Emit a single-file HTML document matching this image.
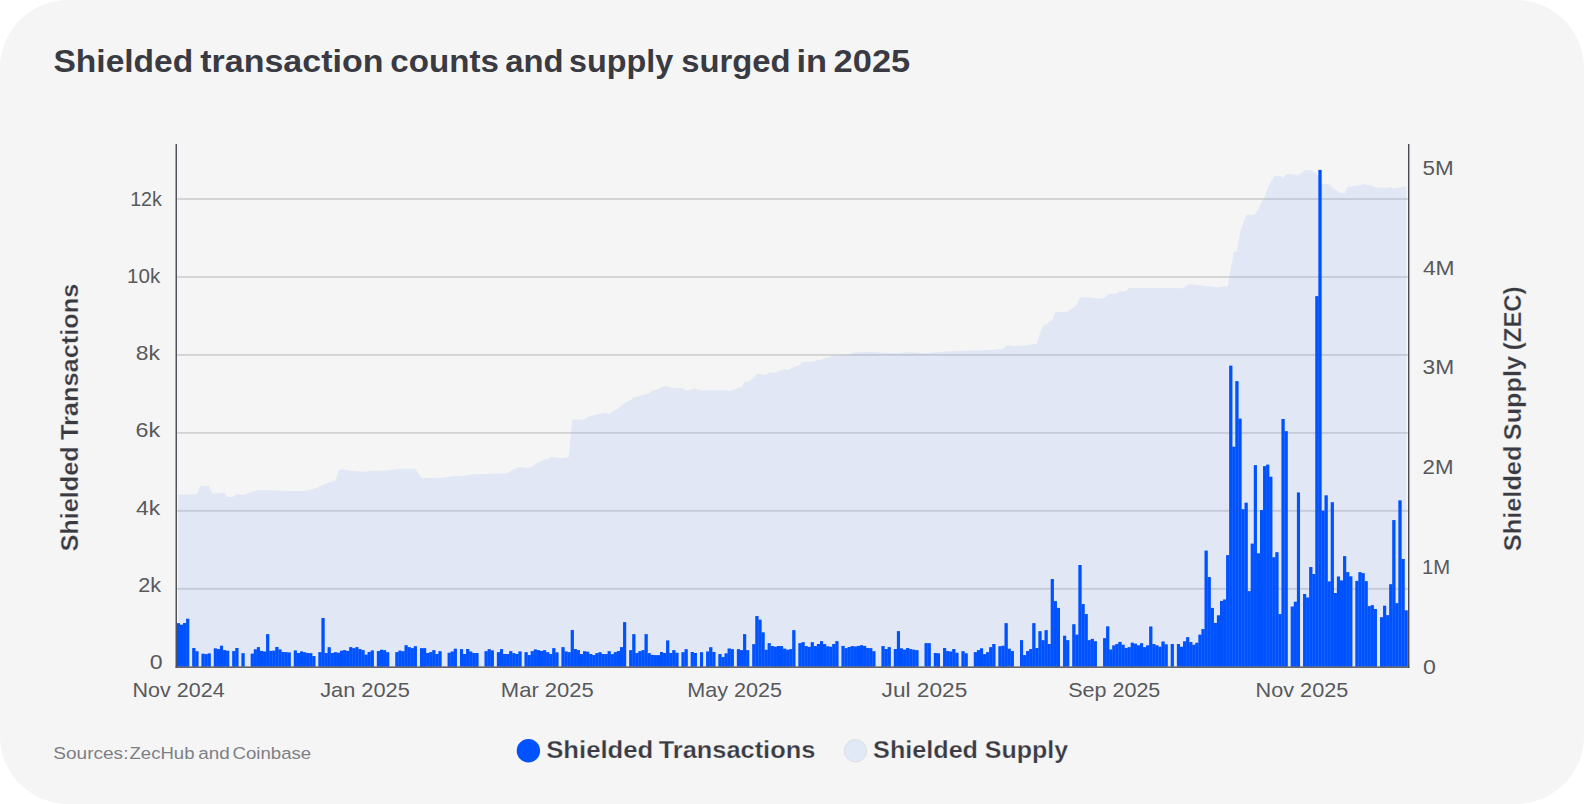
<!DOCTYPE html>
<html><head><meta charset="utf-8"><title>Shielded transaction counts and supply surged in 2025</title>
<style>
html,body{margin:0;padding:0;background:#fff;}
body{width:1584px;height:804px;overflow:hidden;}
.card{position:absolute;left:0;top:0;width:1584px;height:804px;background:#f5f5f5;border-radius:68px;overflow:hidden;}
svg{position:absolute;left:0;top:0;}
text{font-family:"Liberation Sans",sans-serif;}
.title{font-size:32px;font-weight:700;fill:#393a42;}
.tick{font-size:20.3px;fill:#58595d;}
.axt{font-size:24.3px;font-weight:700;fill:#393a42;stroke:#f5f5f5;stroke-width:0.25px;}
.leg{font-size:24.3px;font-weight:700;fill:#393a42;stroke:#f5f5f5;stroke-width:0.25px;}
.src{font-size:17.4px;fill:#7e7f84;}
</style></head><body>
<div class="card">
<svg width="1584" height="804" viewBox="0 0 1584 804">
<rect x="177.2" y="587.88" width="1230.9" height="1.9" fill="#d3d3d3"/>
<rect x="177.2" y="509.91" width="1230.9" height="1.9" fill="#d3d3d3"/>
<rect x="177.2" y="431.94" width="1230.9" height="1.9" fill="#d3d3d3"/>
<rect x="177.2" y="353.97" width="1230.9" height="1.9" fill="#d3d3d3"/>
<rect x="177.2" y="276.00" width="1230.9" height="1.9" fill="#d3d3d3"/>
<rect x="177.2" y="198.03" width="1230.9" height="1.9" fill="#d3d3d3"/>
<path d="M178.3,666.5 L178.3,494.7 L196.7,494.2 L200.3,486.0 L208.8,485.5 L212.2,493.7 L224.2,492.7 L227.7,497.3 L233.3,496.7 L236.7,494.3 L242.8,495.0 L255.0,490.7 L261.7,490.0 L285.0,491.0 L303.3,491.0 L313.3,489.2 L323.3,484.7 L332.5,481.3 L335.3,480.7 L338.7,470.3 L343.3,469.3 L350.0,470.7 L363.3,471.8 L366.7,471.2 L386.7,470.5 L398.3,469.0 L415.0,468.8 L421.7,478.2 L434.0,477.8 L443.3,477.7 L455.0,476.0 L467.5,475.7 L471.7,474.5 L507.5,473.2 L511.7,470.3 L520.0,467.0 L525.8,468.0 L532.0,467.3 L535.8,463.8 L545.0,459.3 L548.0,459.2 L550.8,457.0 L562.5,458.2 L568.8,457.2 L572.2,419.2 L575.8,419.8 L584.2,419.5 L587.5,417.0 L597.5,414.2 L605.8,412.8 L609.2,414.0 L615.0,410.0 L618.3,408.5 L624.7,402.7 L630.8,400.0 L633.7,397.0 L636.7,396.7 L645.0,394.2 L649.2,393.3 L652.2,390.7 L655.8,390.0 L664.2,386.3 L667.5,386.3 L670.8,387.7 L682.5,388.2 L686.7,390.8 L690.0,390.0 L695.0,388.5 L700.8,390.2 L725.8,390.3 L729.2,391.2 L737.5,388.0 L741.3,387.3 L744.7,382.0 L748.0,381.8 L753.7,378.0 L757.0,374.0 L765.8,374.7 L770.0,372.3 L775.0,373.0 L778.3,371.2 L784.7,369.3 L787.5,370.2 L794.2,367.0 L800.0,365.0 L803.3,362.0 L814.2,361.5 L817.5,360.2 L821.7,359.8 L824.7,358.2 L828.3,357.5 L831.7,355.7 L846.7,354.5 L855.0,352.5 L870.0,352.0 L895.0,353.3 L910.0,352.3 L925.0,353.3 L950.0,351.3 L991.7,350.0 L1003.0,348.8 L1006.7,345.8 L1009.2,345.5 L1012.0,346.2 L1026.7,345.5 L1031.7,344.3 L1036.7,344.0 L1040.0,333.3 L1043.3,325.3 L1046.3,325.0 L1049.5,321.3 L1052.2,320.0 L1055.5,312.3 L1067.5,311.8 L1076.7,305.3 L1080.0,297.2 L1093.3,298.0 L1095.8,298.8 L1104.5,298.0 L1108.0,294.3 L1117.5,293.2 L1120.0,291.0 L1123.3,291.7 L1126.3,290.7 L1129.5,288.0 L1156.0,288.0 L1183.5,288.3 L1187.7,284.5 L1191.0,284.2 L1218.5,287.5 L1224.3,286.2 L1227.7,286.5 L1230.2,271.7 L1234.0,251.7 L1236.8,251.3 L1240.2,231.7 L1246.3,215.3 L1249.3,214.7 L1252.7,215.5 L1255.5,213.7 L1258.5,209.3 L1261.3,202.5 L1264.3,198.0 L1267.7,187.5 L1274.3,176.3 L1280.2,176.0 L1283.0,178.0 L1286.3,174.0 L1292.7,174.3 L1298.5,175.5 L1304.8,170.3 L1311.0,170.3 L1316.8,174.2 L1318.5,176.7 L1322.7,184.2 L1329.3,184.3 L1332.7,188.3 L1341.8,193.3 L1344.7,193.2 L1347.7,186.7 L1358.5,185.8 L1363.2,183.7 L1367.7,185.3 L1372.2,185.5 L1375.2,187.5 L1386.8,187.8 L1390.7,187.0 L1393.5,188.2 L1397.7,187.8 L1406.3,186.2 L1406.3,666.5 Z" fill="rgb(145,175,245)" fill-opacity="0.2"/>
<path d="M176.90,666.5V623.2H179.98V624.8H183.05V623.0H186.13V618.8H189.21V666.5ZM192.28,666.5V648.0H195.36V651.3H198.44V666.5ZM201.52,666.5V653.8H204.59V654.2H207.67V653.5H210.75V666.5ZM213.82,666.5V648.4H216.90V649.1H219.98V645.8H223.06V650.2H226.13V650.8H229.21V666.5ZM232.29,666.5V651.1H235.36V648.0H238.44V666.5ZM241.52,666.5V653.2H244.59V666.5ZM250.75,666.5V653.7H253.82V649.4H256.90V647.2H259.98V650.9H263.06V651.6H266.13V634.2H269.21V650.9H272.29V650.7H275.36V647.0H278.44V649.5H281.52V652.0H284.60V652.2H287.67V652.5H290.75V666.5ZM293.83,666.5V650.5H296.90V653.0H299.98V651.5H303.06V652.3H306.13V653.0H309.21V653.2H312.29V656.1H315.37V666.5ZM318.44,666.5V652.2H321.52V618.0H324.60V653.0H327.67V647.3H330.75V653.0H333.83V652.3H336.90V652.8H339.98V650.8H343.06V650.2H346.13V650.9H349.21V647.2H352.29V648.2H355.37V647.2H358.44V649.1H361.52V650.2H364.60V654.7H367.67V652.0H370.75V650.5H373.83V666.5ZM376.90,666.5V651.1H379.98V649.8H383.06V650.2H386.14V652.2H389.21V666.5ZM395.37,666.5V652.2H398.44V650.7H401.52V651.3H404.60V645.3H407.68V647.2H410.75V648.2H413.83V646.3H416.91V666.5ZM419.98,666.5V648.2H423.06V648.2H426.14V653.0H429.21V652.2H432.29V650.2H435.37V654.0H438.45V651.3H441.52V666.5ZM447.68,666.5V652.8H450.75V651.6H453.83V648.8H456.91V666.5ZM459.98,666.5V649.2H463.06V654.0H466.14V649.0H469.22V651.6H472.29V653.0H475.37V653.0H478.45V666.5ZM484.60,666.5V651.2H487.68V649.2H490.75V650.5H493.83V666.5ZM496.91,666.5V652.2H499.99V649.1H503.06V654.0H506.14V654.0H509.22V651.2H512.29V653.2H515.37V654.0H518.45V651.5H521.52V666.5ZM524.60,666.5V652.2H527.68V655.1H530.75V651.2H533.83V649.5H536.91V650.2H539.99V650.9H543.06V650.2H546.14V652.2H549.22V654.0H552.29V648.2H555.37V652.4H558.45V666.5ZM561.52,666.5V647.2H564.60V651.6H567.68V652.2H570.76V630.1H573.83V649.1H576.91V650.2H579.99V654.0H583.06V651.3H586.14V651.8H589.22V654.0H592.29V655.1H595.37V653.2H598.45V652.3H601.53V654.0H604.60V654.0H607.68V651.3H610.76V654.2H613.83V652.2H616.91V651.1H619.99V647.2H623.07V622.2H626.14V666.5ZM629.22,666.5V650.2H632.30V634.2H635.37V653.0H638.45V651.2H641.53V650.2H644.60V634.2H647.68V653.2H650.76V654.9H653.84V655.2H656.91V655.2H659.99V652.0H663.07V653.0H666.14V640.5H669.22V653.0H672.30V650.2H675.37V652.8H678.45V666.5ZM681.53,666.5V652.2H684.61V649.2H687.68V666.5ZM690.76,666.5V652.0H693.84V653.0H696.91V666.5ZM699.99,666.5V652.2H703.07V666.5ZM706.14,666.5V651.6H709.22V647.3H712.30V652.0H715.38V666.5ZM718.45,666.5V654.1H721.53V657.0H724.61V653.4H727.68V648.6H730.76V649.2H733.84V666.5ZM736.91,666.5V649.2H739.99V650.2H743.07V634.2H746.14V650.2H749.22V666.5ZM752.30,666.5V644.2H755.38V616.1H758.45V619.7H761.53V632.4H764.61V649.8H767.68V643.2H770.76V646.1H773.84V646.8H776.91V646.1H779.99V646.1H783.07V648.7H786.15V649.8H789.22V649.2H792.30V630.2H795.38V666.5ZM798.45,666.5V643.2H801.53V642.2H804.61V646.1H807.68V646.9H810.76V642.2H813.84V646.1H816.92V644.0H819.99V641.2H823.07V644.0H826.15V646.3H829.22V646.8H832.30V644.0H835.38V641.2H838.45V666.5ZM841.53,666.5V645.9H844.61V648.2H847.69V647.0H850.76V646.1H853.84V646.6H856.92V645.9H859.99V645.3H863.07V645.9H866.15V648.0H869.23V648.2H872.30V651.3H875.38V666.5ZM881.53,666.5V646.1H884.61V649.0H887.69V647.2H890.76V666.5ZM893.84,666.5V649.0H896.92V631.2H900.00V648.4H903.07V649.7H906.15V648.0H909.23V649.1H912.30V649.8H915.38V650.2H918.46V666.5ZM924.61,666.5V643.2H927.69V643.2H930.76V666.5ZM933.84,666.5V653.0H936.92V653.4H940.00V666.5ZM943.07,666.5V648.0H946.15V651.1H949.23V651.6H952.30V649.0H955.38V652.8H958.46V666.5ZM961.53,666.5V651.3H964.61V653.4H967.69V666.5ZM973.84,666.5V652.2H976.92V650.2H980.00V648.4H983.07V654.2H986.15V652.2H989.23V647.2H992.30V644.0H995.38V666.5ZM998.46,666.5V646.3H1001.54V645.8H1004.61V623.2H1007.69V648.8H1010.77V651.1H1013.84V666.5ZM1020.00,666.5V640.2H1023.07V655.1H1026.15V651.1H1029.23V649.1H1032.31V623.2H1035.38V648.0H1038.46V631.3H1041.54V640.2H1044.61V630.2H1047.69V644.0H1050.77V579.1H1053.85V601.1H1056.92V607.9H1060.00V666.5ZM1063.08,666.5V635.8H1066.15V640.2H1069.23V666.5ZM1072.31,666.5V624.3H1075.38V634.7H1078.46V565.0H1081.54V604.1H1084.62V614.1H1087.69V640.2H1090.77V638.9H1093.85V641.2H1096.92V666.5ZM1103.08,666.5V638.2H1106.15V626.4H1109.23V649.6H1112.31V645.4H1115.38V644.1H1118.46V641.9H1121.54V644.8H1124.62V647.9H1127.69V647.2H1130.77V642.8H1133.85V643.7H1136.92V645.4H1140.00V643.3H1143.08V647.2H1146.15V645.4H1149.23V626.6H1152.31V644.1H1155.39V645.4H1158.46V646.8H1161.54V641.6H1164.62V644.4H1167.69V666.5ZM1170.77,666.5V644.0H1173.85V666.5ZM1176.92,666.5V644.0H1180.00V646.8H1183.08V641.4H1186.16V637.2H1189.23V642.1H1192.31V644.8H1195.39V642.8H1198.46V634.7H1201.54V629.1H1204.62V550.7H1207.70V577.1H1210.77V607.9H1213.85V622.9H1216.93V615.4H1220.00V600.9H1223.08V599.6H1226.16V555.2H1229.23V365.7H1232.31V446.8H1235.39V381.2H1238.47V418.7H1241.54V509.3H1244.62V502.8H1247.70V591.2H1250.77V543.7H1253.85V465.2H1256.93V553.4H1260.00V510.1H1263.08V466.2H1266.16V464.7H1269.24V476.8H1272.31V557.3H1275.39V552.3H1278.47V614.1H1281.54V419.0H1284.62V431.2H1287.70V666.5ZM1290.77,666.5V606.6H1293.85V601.8H1296.93V492.6H1300.01V666.5ZM1303.08,666.5V594.0H1306.16V597.6H1309.24V567.1H1312.31V574.0H1315.39V296.2H1318.47V169.9H1321.54V510.7H1324.62V495.4H1327.70V581.5H1330.78V502.3H1333.85V593.0H1336.93V576.6H1340.01V580.5H1343.08V556.2H1346.16V572.2H1349.24V576.4H1352.31V666.5ZM1355.39,666.5V580.9H1358.47V572.2H1361.55V573.2H1364.62V581.2H1367.70V606.2H1370.78V605.2H1373.85V609.0H1376.93V666.5ZM1380.01,666.5V617.3H1383.08V605.8H1386.16V615.2H1389.24V584.3H1392.32V520.1H1395.39V603.2H1398.47V500.4H1401.55V559.0H1404.62V610.4H1407.70V666.5Z" fill="#0052ff" fill-opacity="0.5"/>
<g fill="#0052ff">
<rect x="176.90" y="623.2" width="3.077" height="43.3"/><rect x="179.98" y="624.8" width="3.077" height="41.7"/><rect x="183.05" y="623.0" width="3.077" height="43.5"/><rect x="186.13" y="618.8" width="3.077" height="47.7"/><rect x="192.28" y="648.0" width="3.077" height="18.5"/><rect x="195.36" y="651.3" width="3.077" height="15.2"/><rect x="201.52" y="653.8" width="3.077" height="12.7"/><rect x="204.59" y="654.2" width="3.077" height="12.3"/><rect x="207.67" y="653.5" width="3.077" height="13.0"/><rect x="213.82" y="648.4" width="3.077" height="18.1"/><rect x="216.90" y="649.1" width="3.077" height="17.4"/><rect x="219.98" y="645.8" width="3.077" height="20.8"/><rect x="223.06" y="650.2" width="3.077" height="16.2"/><rect x="226.13" y="650.8" width="3.077" height="15.8"/><rect x="232.29" y="651.1" width="3.077" height="15.4"/><rect x="235.36" y="648.0" width="3.077" height="18.5"/><rect x="241.52" y="653.2" width="3.077" height="13.3"/><rect x="250.75" y="653.7" width="3.077" height="12.8"/><rect x="253.82" y="649.4" width="3.077" height="17.1"/><rect x="256.90" y="647.2" width="3.077" height="19.3"/><rect x="259.98" y="650.9" width="3.077" height="15.6"/><rect x="263.06" y="651.6" width="3.077" height="14.9"/><rect x="266.13" y="634.2" width="3.077" height="32.2"/><rect x="269.21" y="650.9" width="3.077" height="15.6"/><rect x="272.29" y="650.7" width="3.077" height="15.8"/><rect x="275.36" y="647.0" width="3.077" height="19.5"/><rect x="278.44" y="649.5" width="3.077" height="17.0"/><rect x="281.52" y="652.0" width="3.077" height="14.5"/><rect x="284.60" y="652.2" width="3.077" height="14.3"/><rect x="287.67" y="652.5" width="3.077" height="14.0"/><rect x="293.83" y="650.5" width="3.077" height="16.0"/><rect x="296.90" y="653.0" width="3.077" height="13.5"/><rect x="299.98" y="651.5" width="3.077" height="15.0"/><rect x="303.06" y="652.3" width="3.077" height="14.2"/><rect x="306.13" y="653.0" width="3.077" height="13.5"/><rect x="309.21" y="653.2" width="3.077" height="13.2"/><rect x="312.29" y="656.1" width="3.077" height="10.4"/><rect x="318.44" y="652.2" width="3.077" height="14.3"/><rect x="321.52" y="618.0" width="3.077" height="48.5"/><rect x="324.60" y="653.0" width="3.077" height="13.5"/><rect x="327.67" y="647.3" width="3.077" height="19.2"/><rect x="330.75" y="653.0" width="3.077" height="13.5"/><rect x="333.83" y="652.3" width="3.077" height="14.2"/><rect x="336.90" y="652.8" width="3.077" height="13.7"/><rect x="339.98" y="650.8" width="3.077" height="15.8"/><rect x="343.06" y="650.2" width="3.077" height="16.2"/><rect x="346.13" y="650.9" width="3.077" height="15.6"/><rect x="349.21" y="647.2" width="3.077" height="19.3"/><rect x="352.29" y="648.2" width="3.077" height="18.3"/><rect x="355.37" y="647.2" width="3.077" height="19.3"/><rect x="358.44" y="649.1" width="3.077" height="17.4"/><rect x="361.52" y="650.2" width="3.077" height="16.2"/><rect x="364.60" y="654.7" width="3.077" height="11.8"/><rect x="367.67" y="652.0" width="3.077" height="14.5"/><rect x="370.75" y="650.5" width="3.077" height="16.0"/><rect x="376.90" y="651.1" width="3.077" height="15.4"/><rect x="379.98" y="649.8" width="3.077" height="16.7"/><rect x="383.06" y="650.2" width="3.077" height="16.2"/><rect x="386.14" y="652.2" width="3.077" height="14.3"/><rect x="395.37" y="652.2" width="3.077" height="14.3"/><rect x="398.44" y="650.7" width="3.077" height="15.8"/><rect x="401.52" y="651.3" width="3.077" height="15.2"/><rect x="404.60" y="645.3" width="3.077" height="21.2"/><rect x="407.68" y="647.2" width="3.077" height="19.3"/><rect x="410.75" y="648.2" width="3.077" height="18.3"/><rect x="413.83" y="646.3" width="3.077" height="20.2"/><rect x="419.98" y="648.2" width="3.077" height="18.3"/><rect x="423.06" y="648.2" width="3.077" height="18.3"/><rect x="426.14" y="653.0" width="3.077" height="13.5"/><rect x="429.21" y="652.2" width="3.077" height="14.3"/><rect x="432.29" y="650.2" width="3.077" height="16.2"/><rect x="435.37" y="654.0" width="3.077" height="12.5"/><rect x="438.45" y="651.3" width="3.077" height="15.2"/><rect x="447.68" y="652.8" width="3.077" height="13.8"/><rect x="450.75" y="651.6" width="3.077" height="14.9"/><rect x="453.83" y="648.8" width="3.077" height="17.7"/><rect x="459.98" y="649.2" width="3.077" height="17.2"/><rect x="463.06" y="654.0" width="3.077" height="12.5"/><rect x="466.14" y="649.0" width="3.077" height="17.5"/><rect x="469.22" y="651.6" width="3.077" height="14.9"/><rect x="472.29" y="653.0" width="3.077" height="13.5"/><rect x="475.37" y="653.0" width="3.077" height="13.5"/><rect x="484.60" y="651.2" width="3.077" height="15.3"/><rect x="487.68" y="649.2" width="3.077" height="17.2"/><rect x="490.75" y="650.5" width="3.077" height="16.0"/><rect x="496.91" y="652.2" width="3.077" height="14.3"/><rect x="499.99" y="649.1" width="3.077" height="17.4"/><rect x="503.06" y="654.0" width="3.077" height="12.5"/><rect x="506.14" y="654.0" width="3.077" height="12.5"/><rect x="509.22" y="651.2" width="3.077" height="15.3"/><rect x="512.29" y="653.2" width="3.077" height="13.2"/><rect x="515.37" y="654.0" width="3.077" height="12.5"/><rect x="518.45" y="651.5" width="3.077" height="15.0"/><rect x="524.60" y="652.2" width="3.077" height="14.3"/><rect x="527.68" y="655.1" width="3.077" height="11.4"/><rect x="530.75" y="651.2" width="3.077" height="15.3"/><rect x="533.83" y="649.5" width="3.077" height="17.0"/><rect x="536.91" y="650.2" width="3.077" height="16.2"/><rect x="539.99" y="650.9" width="3.077" height="15.6"/><rect x="543.06" y="650.2" width="3.077" height="16.2"/><rect x="546.14" y="652.2" width="3.077" height="14.3"/><rect x="549.22" y="654.0" width="3.077" height="12.5"/><rect x="552.29" y="648.2" width="3.077" height="18.3"/><rect x="555.37" y="652.4" width="3.077" height="14.1"/><rect x="561.52" y="647.2" width="3.077" height="19.3"/><rect x="564.60" y="651.6" width="3.077" height="14.9"/><rect x="567.68" y="652.2" width="3.077" height="14.3"/><rect x="570.76" y="630.1" width="3.077" height="36.4"/><rect x="573.83" y="649.1" width="3.077" height="17.4"/><rect x="576.91" y="650.2" width="3.077" height="16.2"/><rect x="579.99" y="654.0" width="3.077" height="12.5"/><rect x="583.06" y="651.3" width="3.077" height="15.2"/><rect x="586.14" y="651.8" width="3.077" height="14.8"/><rect x="589.22" y="654.0" width="3.077" height="12.5"/><rect x="592.29" y="655.1" width="3.077" height="11.4"/><rect x="595.37" y="653.2" width="3.077" height="13.3"/><rect x="598.45" y="652.3" width="3.077" height="14.2"/><rect x="601.53" y="654.0" width="3.077" height="12.5"/><rect x="604.60" y="654.0" width="3.077" height="12.5"/><rect x="607.68" y="651.3" width="3.077" height="15.2"/><rect x="610.76" y="654.2" width="3.077" height="12.2"/><rect x="613.83" y="652.2" width="3.077" height="14.3"/><rect x="616.91" y="651.1" width="3.077" height="15.4"/><rect x="619.99" y="647.2" width="3.077" height="19.3"/><rect x="623.07" y="622.2" width="3.077" height="44.3"/><rect x="629.22" y="650.2" width="3.077" height="16.2"/><rect x="632.30" y="634.2" width="3.077" height="32.2"/><rect x="635.37" y="653.0" width="3.077" height="13.5"/><rect x="638.45" y="651.2" width="3.077" height="15.3"/><rect x="641.53" y="650.2" width="3.077" height="16.2"/><rect x="644.60" y="634.2" width="3.077" height="32.2"/><rect x="647.68" y="653.2" width="3.077" height="13.3"/><rect x="650.76" y="654.9" width="3.077" height="11.6"/><rect x="653.84" y="655.2" width="3.077" height="11.3"/><rect x="656.91" y="655.2" width="3.077" height="11.3"/><rect x="659.99" y="652.0" width="3.077" height="14.5"/><rect x="663.07" y="653.0" width="3.077" height="13.5"/><rect x="666.14" y="640.5" width="3.077" height="26.0"/><rect x="669.22" y="653.0" width="3.077" height="13.5"/><rect x="672.30" y="650.2" width="3.077" height="16.2"/><rect x="675.37" y="652.8" width="3.077" height="13.8"/><rect x="681.53" y="652.2" width="3.077" height="14.3"/><rect x="684.61" y="649.2" width="3.077" height="17.2"/><rect x="690.76" y="652.0" width="3.077" height="14.5"/><rect x="693.84" y="653.0" width="3.077" height="13.5"/><rect x="699.99" y="652.2" width="3.077" height="14.3"/><rect x="706.14" y="651.6" width="3.077" height="14.9"/><rect x="709.22" y="647.3" width="3.077" height="19.2"/><rect x="712.30" y="652.0" width="3.077" height="14.5"/><rect x="718.45" y="654.1" width="3.077" height="12.4"/><rect x="721.53" y="657.0" width="3.077" height="9.5"/><rect x="724.61" y="653.4" width="3.077" height="13.1"/><rect x="727.68" y="648.6" width="3.077" height="17.9"/><rect x="730.76" y="649.2" width="3.077" height="17.2"/><rect x="736.91" y="649.2" width="3.077" height="17.2"/><rect x="739.99" y="650.2" width="3.077" height="16.2"/><rect x="743.07" y="634.2" width="3.077" height="32.2"/><rect x="746.14" y="650.2" width="3.077" height="16.2"/><rect x="752.30" y="644.2" width="3.077" height="22.2"/><rect x="755.38" y="616.1" width="3.077" height="50.4"/><rect x="758.45" y="619.7" width="3.077" height="46.8"/><rect x="761.53" y="632.4" width="3.077" height="34.1"/><rect x="764.61" y="649.8" width="3.077" height="16.7"/><rect x="767.68" y="643.2" width="3.077" height="23.2"/><rect x="770.76" y="646.1" width="3.077" height="20.4"/><rect x="773.84" y="646.8" width="3.077" height="19.8"/><rect x="776.91" y="646.1" width="3.077" height="20.4"/><rect x="779.99" y="646.1" width="3.077" height="20.4"/><rect x="783.07" y="648.7" width="3.077" height="17.8"/><rect x="786.15" y="649.8" width="3.077" height="16.7"/><rect x="789.22" y="649.2" width="3.077" height="17.2"/><rect x="792.30" y="630.2" width="3.077" height="36.2"/><rect x="798.45" y="643.2" width="3.077" height="23.2"/><rect x="801.53" y="642.2" width="3.077" height="24.3"/><rect x="804.61" y="646.1" width="3.077" height="20.4"/><rect x="807.68" y="646.9" width="3.077" height="19.6"/><rect x="810.76" y="642.2" width="3.077" height="24.3"/><rect x="813.84" y="646.1" width="3.077" height="20.4"/><rect x="816.92" y="644.0" width="3.077" height="22.5"/><rect x="819.99" y="641.2" width="3.077" height="25.3"/><rect x="823.07" y="644.0" width="3.077" height="22.5"/><rect x="826.15" y="646.3" width="3.077" height="20.2"/><rect x="829.22" y="646.8" width="3.077" height="19.8"/><rect x="832.30" y="644.0" width="3.077" height="22.5"/><rect x="835.38" y="641.2" width="3.077" height="25.3"/><rect x="841.53" y="645.9" width="3.077" height="20.6"/><rect x="844.61" y="648.2" width="3.077" height="18.3"/><rect x="847.69" y="647.0" width="3.077" height="19.5"/><rect x="850.76" y="646.1" width="3.077" height="20.4"/><rect x="853.84" y="646.6" width="3.077" height="19.9"/><rect x="856.92" y="645.9" width="3.077" height="20.6"/><rect x="859.99" y="645.3" width="3.077" height="21.2"/><rect x="863.07" y="645.9" width="3.077" height="20.6"/><rect x="866.15" y="648.0" width="3.077" height="18.5"/><rect x="869.23" y="648.2" width="3.077" height="18.2"/><rect x="872.30" y="651.3" width="3.077" height="15.2"/><rect x="881.53" y="646.1" width="3.077" height="20.4"/><rect x="884.61" y="649.0" width="3.077" height="17.5"/><rect x="887.69" y="647.2" width="3.077" height="19.3"/><rect x="893.84" y="649.0" width="3.077" height="17.5"/><rect x="896.92" y="631.2" width="3.077" height="35.3"/><rect x="900.00" y="648.4" width="3.077" height="18.1"/><rect x="903.07" y="649.7" width="3.077" height="16.8"/><rect x="906.15" y="648.0" width="3.077" height="18.5"/><rect x="909.23" y="649.1" width="3.077" height="17.4"/><rect x="912.30" y="649.8" width="3.077" height="16.7"/><rect x="915.38" y="650.2" width="3.077" height="16.2"/><rect x="924.61" y="643.2" width="3.077" height="23.2"/><rect x="927.69" y="643.2" width="3.077" height="23.2"/><rect x="933.84" y="653.0" width="3.077" height="13.5"/><rect x="936.92" y="653.4" width="3.077" height="13.1"/><rect x="943.07" y="648.0" width="3.077" height="18.5"/><rect x="946.15" y="651.1" width="3.077" height="15.4"/><rect x="949.23" y="651.6" width="3.077" height="14.9"/><rect x="952.30" y="649.0" width="3.077" height="17.5"/><rect x="955.38" y="652.8" width="3.077" height="13.8"/><rect x="961.53" y="651.3" width="3.077" height="15.2"/><rect x="964.61" y="653.4" width="3.077" height="13.1"/><rect x="973.84" y="652.2" width="3.077" height="14.3"/><rect x="976.92" y="650.2" width="3.077" height="16.2"/><rect x="980.00" y="648.4" width="3.077" height="18.1"/><rect x="983.07" y="654.2" width="3.077" height="12.2"/><rect x="986.15" y="652.2" width="3.077" height="14.3"/><rect x="989.23" y="647.2" width="3.077" height="19.3"/><rect x="992.30" y="644.0" width="3.077" height="22.5"/><rect x="998.46" y="646.3" width="3.077" height="20.2"/><rect x="1001.54" y="645.8" width="3.077" height="20.8"/><rect x="1004.61" y="623.2" width="3.077" height="43.3"/><rect x="1007.69" y="648.8" width="3.077" height="17.7"/><rect x="1010.77" y="651.1" width="3.077" height="15.4"/><rect x="1020.00" y="640.2" width="3.077" height="26.2"/><rect x="1023.07" y="655.1" width="3.077" height="11.4"/><rect x="1026.15" y="651.1" width="3.077" height="15.4"/><rect x="1029.23" y="649.1" width="3.077" height="17.4"/><rect x="1032.31" y="623.2" width="3.077" height="43.3"/><rect x="1035.38" y="648.0" width="3.077" height="18.5"/><rect x="1038.46" y="631.3" width="3.077" height="35.2"/><rect x="1041.54" y="640.2" width="3.077" height="26.2"/><rect x="1044.61" y="630.2" width="3.077" height="36.2"/><rect x="1047.69" y="644.0" width="3.077" height="22.5"/><rect x="1050.77" y="579.1" width="3.077" height="87.4"/><rect x="1053.85" y="601.1" width="3.077" height="65.4"/><rect x="1056.92" y="607.9" width="3.077" height="58.6"/><rect x="1063.08" y="635.8" width="3.077" height="30.7"/><rect x="1066.15" y="640.2" width="3.077" height="26.2"/><rect x="1072.31" y="624.3" width="3.077" height="42.2"/><rect x="1075.38" y="634.7" width="3.077" height="31.8"/><rect x="1078.46" y="565.0" width="3.077" height="101.5"/><rect x="1081.54" y="604.1" width="3.077" height="62.4"/><rect x="1084.62" y="614.1" width="3.077" height="52.4"/><rect x="1087.69" y="640.2" width="3.077" height="26.2"/><rect x="1090.77" y="638.9" width="3.077" height="27.6"/><rect x="1093.85" y="641.2" width="3.077" height="25.3"/><rect x="1103.08" y="638.2" width="3.077" height="28.3"/><rect x="1106.15" y="626.4" width="3.077" height="40.1"/><rect x="1109.23" y="649.6" width="3.077" height="16.9"/><rect x="1112.31" y="645.4" width="3.077" height="21.1"/><rect x="1115.38" y="644.1" width="3.077" height="22.4"/><rect x="1118.46" y="641.9" width="3.077" height="24.6"/><rect x="1121.54" y="644.8" width="3.077" height="21.7"/><rect x="1124.62" y="647.9" width="3.077" height="18.6"/><rect x="1127.69" y="647.2" width="3.077" height="19.3"/><rect x="1130.77" y="642.8" width="3.077" height="23.8"/><rect x="1133.85" y="643.7" width="3.077" height="22.8"/><rect x="1136.92" y="645.4" width="3.077" height="21.1"/><rect x="1140.00" y="643.3" width="3.077" height="23.2"/><rect x="1143.08" y="647.2" width="3.077" height="19.3"/><rect x="1146.15" y="645.4" width="3.077" height="21.1"/><rect x="1149.23" y="626.6" width="3.077" height="39.9"/><rect x="1152.31" y="644.1" width="3.077" height="22.4"/><rect x="1155.39" y="645.4" width="3.077" height="21.1"/><rect x="1158.46" y="646.8" width="3.077" height="19.7"/><rect x="1161.54" y="641.6" width="3.077" height="24.9"/><rect x="1164.62" y="644.4" width="3.077" height="22.1"/><rect x="1170.77" y="644.0" width="3.077" height="22.5"/><rect x="1176.92" y="644.0" width="3.077" height="22.5"/><rect x="1180.00" y="646.8" width="3.077" height="19.7"/><rect x="1183.08" y="641.4" width="3.077" height="25.1"/><rect x="1186.16" y="637.2" width="3.077" height="29.3"/><rect x="1189.23" y="642.1" width="3.077" height="24.4"/><rect x="1192.31" y="644.8" width="3.077" height="21.7"/><rect x="1195.39" y="642.8" width="3.077" height="23.8"/><rect x="1198.46" y="634.7" width="3.077" height="31.8"/><rect x="1201.54" y="629.1" width="3.077" height="37.4"/><rect x="1204.62" y="550.7" width="3.077" height="115.8"/><rect x="1207.70" y="577.1" width="3.077" height="89.4"/><rect x="1210.77" y="607.9" width="3.077" height="58.6"/><rect x="1213.85" y="622.9" width="3.077" height="43.6"/><rect x="1216.93" y="615.4" width="3.077" height="51.1"/><rect x="1220.00" y="600.9" width="3.077" height="65.6"/><rect x="1223.08" y="599.6" width="3.077" height="66.9"/><rect x="1226.16" y="555.2" width="3.077" height="111.2"/><rect x="1229.23" y="365.7" width="3.077" height="300.8"/><rect x="1232.31" y="446.8" width="3.077" height="219.7"/><rect x="1235.39" y="381.2" width="3.077" height="285.3"/><rect x="1238.47" y="418.7" width="3.077" height="247.8"/><rect x="1241.54" y="509.3" width="3.077" height="157.2"/><rect x="1244.62" y="502.8" width="3.077" height="163.8"/><rect x="1247.70" y="591.2" width="3.077" height="75.3"/><rect x="1250.77" y="543.7" width="3.077" height="122.8"/><rect x="1253.85" y="465.2" width="3.077" height="201.2"/><rect x="1256.93" y="553.4" width="3.077" height="113.1"/><rect x="1260.00" y="510.1" width="3.077" height="156.4"/><rect x="1263.08" y="466.2" width="3.077" height="200.3"/><rect x="1266.16" y="464.7" width="3.077" height="201.8"/><rect x="1269.24" y="476.8" width="3.077" height="189.7"/><rect x="1272.31" y="557.3" width="3.077" height="109.2"/><rect x="1275.39" y="552.3" width="3.077" height="114.2"/><rect x="1278.47" y="614.1" width="3.077" height="52.4"/><rect x="1281.54" y="419.0" width="3.077" height="247.5"/><rect x="1284.62" y="431.2" width="3.077" height="235.3"/><rect x="1290.77" y="606.6" width="3.077" height="59.9"/><rect x="1293.85" y="601.8" width="3.077" height="64.7"/><rect x="1296.93" y="492.6" width="3.077" height="173.9"/><rect x="1303.08" y="594.0" width="3.077" height="72.5"/><rect x="1306.16" y="597.6" width="3.077" height="68.9"/><rect x="1309.24" y="567.1" width="3.077" height="99.4"/><rect x="1312.31" y="574.0" width="3.077" height="92.5"/><rect x="1315.39" y="296.2" width="3.077" height="370.3"/><rect x="1318.47" y="169.9" width="3.077" height="496.6"/><rect x="1321.54" y="510.7" width="3.077" height="155.8"/><rect x="1324.62" y="495.4" width="3.077" height="171.1"/><rect x="1327.70" y="581.5" width="3.077" height="85.0"/><rect x="1330.78" y="502.3" width="3.077" height="164.2"/><rect x="1333.85" y="593.0" width="3.077" height="73.5"/><rect x="1336.93" y="576.6" width="3.077" height="89.9"/><rect x="1340.01" y="580.5" width="3.077" height="86.0"/><rect x="1343.08" y="556.2" width="3.077" height="110.3"/><rect x="1346.16" y="572.2" width="3.077" height="94.3"/><rect x="1349.24" y="576.4" width="3.077" height="90.1"/><rect x="1355.39" y="580.9" width="3.077" height="85.6"/><rect x="1358.47" y="572.2" width="3.077" height="94.3"/><rect x="1361.55" y="573.2" width="3.077" height="93.3"/><rect x="1364.62" y="581.2" width="3.077" height="85.3"/><rect x="1367.70" y="606.2" width="3.077" height="60.3"/><rect x="1370.78" y="605.2" width="3.077" height="61.2"/><rect x="1373.85" y="609.0" width="3.077" height="57.5"/><rect x="1380.01" y="617.3" width="3.077" height="49.2"/><rect x="1383.08" y="605.8" width="3.077" height="60.7"/><rect x="1386.16" y="615.2" width="3.077" height="51.2"/><rect x="1389.24" y="584.3" width="3.077" height="82.2"/><rect x="1392.32" y="520.1" width="3.077" height="146.4"/><rect x="1395.39" y="603.2" width="3.077" height="63.3"/><rect x="1398.47" y="500.4" width="3.077" height="166.1"/><rect x="1401.55" y="559.0" width="3.077" height="107.5"/><rect x="1404.62" y="610.4" width="3.077" height="56.1"/>
</g>
<rect x="175.55" y="144" width="1.35" height="523.8" fill="#42434b"/>
<rect x="1408.05" y="144" width="1.35" height="523.8" fill="#42434b"/>
<rect x="175.55" y="666.5" width="1233.85" height="1.3" fill="#42434b"/>
<text class="title" y="72.3"><tspan x="53.43" textLength="139.87" lengthAdjust="spacingAndGlyphs">Shielded</tspan> <tspan x="200.25" textLength="183.18" lengthAdjust="spacingAndGlyphs">transaction</tspan> <tspan x="390.28" textLength="108.58" lengthAdjust="spacingAndGlyphs">counts</tspan> <tspan x="505.22" textLength="58.27" lengthAdjust="spacingAndGlyphs">and</tspan> <tspan x="569.09" textLength="104.23" lengthAdjust="spacingAndGlyphs">supply</tspan> <tspan x="681.25" textLength="109.37" lengthAdjust="spacingAndGlyphs">surged</tspan> <tspan x="796.56" textLength="30.57" lengthAdjust="spacingAndGlyphs">in</tspan> <tspan x="833.59" textLength="76.61" lengthAdjust="spacingAndGlyphs">2025</tspan></text>
<text class="leg" y="758.1"><tspan x="546.19" textLength="107.11" lengthAdjust="spacingAndGlyphs">Shielded</tspan> <tspan x="658.68" textLength="156.65" lengthAdjust="spacingAndGlyphs">Transactions</tspan></text>
<text class="leg" y="758.1"><tspan x="873.13" textLength="104.88" lengthAdjust="spacingAndGlyphs">Shielded</tspan> <tspan x="984.89" textLength="83.35" lengthAdjust="spacingAndGlyphs">Supply</tspan></text>
<text class="src" y="759.3"><tspan x="53.25" textLength="75.19" lengthAdjust="spacingAndGlyphs">Sources:</tspan> <tspan x="129.53" textLength="64.98" lengthAdjust="spacingAndGlyphs">ZecHub</tspan> <tspan x="198.21" textLength="31.46" lengthAdjust="spacingAndGlyphs">and</tspan> <tspan x="232.51" textLength="78.72" lengthAdjust="spacingAndGlyphs">Coinbase</tspan></text>
<text class="tick" y="697.1"><tspan x="132.61" textLength="91.98" lengthAdjust="spacingAndGlyphs">Nov 2024</tspan> <tspan x="320.18" textLength="89.60" lengthAdjust="spacingAndGlyphs">Jan 2025</tspan> <tspan x="500.82" textLength="93.02" lengthAdjust="spacingAndGlyphs">Mar 2025</tspan> <tspan x="687.24" textLength="94.90" lengthAdjust="spacingAndGlyphs">May 2025</tspan> <tspan x="881.55" textLength="85.73" lengthAdjust="spacingAndGlyphs">Jul 2025</tspan> <tspan x="1068.17" textLength="92.17" lengthAdjust="spacingAndGlyphs">Sep 2025</tspan> <tspan x="1255.57" textLength="92.75" lengthAdjust="spacingAndGlyphs">Nov 2025</tspan></text>
<text class="axt" transform="translate(78.2,0) rotate(-90)" y="0"><tspan x="-551.61" textLength="105.44" lengthAdjust="spacingAndGlyphs">Shielded</tspan> <tspan x="-440.12" textLength="156.43" lengthAdjust="spacingAndGlyphs">Transactions</tspan></text>
<text class="axt" transform="translate(1521.2,0) rotate(-90)" y="0"><tspan x="-551.15" textLength="105.58" lengthAdjust="spacingAndGlyphs">Shielded</tspan> <tspan x="-440.17" textLength="84.10" lengthAdjust="spacingAndGlyphs">Supply</tspan> <tspan x="-350.15" textLength="63.68" lengthAdjust="spacingAndGlyphs">(ZEC)</tspan></text>
<text class="tick" y="205.6"><tspan x="130.17" textLength="31.70" lengthAdjust="spacingAndGlyphs">12k</tspan></text>
<text class="tick" y="282.8"><tspan x="127.12" textLength="33.18" lengthAdjust="spacingAndGlyphs">10k</tspan></text>
<text class="tick" y="360.0"><tspan x="135.73" textLength="24.23" lengthAdjust="spacingAndGlyphs">8k</tspan></text>
<text class="tick" y="437.3"><tspan x="135.53" textLength="24.66" lengthAdjust="spacingAndGlyphs">6k</tspan></text>
<text class="tick" y="514.5"><tspan x="135.94" textLength="24.17" lengthAdjust="spacingAndGlyphs">4k</tspan></text>
<text class="tick" y="591.8"><tspan x="138.29" textLength="22.89" lengthAdjust="spacingAndGlyphs">2k</tspan></text>
<text class="tick" y="669.0"><tspan x="149.73" textLength="12.87" lengthAdjust="spacingAndGlyphs">0</tspan></text>
<text class="tick" y="175.1"><tspan x="1422.57" textLength="31.17" lengthAdjust="spacingAndGlyphs">5M</tspan></text>
<text class="tick" y="274.8"><tspan x="1422.90" textLength="31.65" lengthAdjust="spacingAndGlyphs">4M</tspan></text>
<text class="tick" y="374.3"><tspan x="1422.59" textLength="31.63" lengthAdjust="spacingAndGlyphs">3M</tspan></text>
<text class="tick" y="474.2"><tspan x="1422.59" textLength="30.96" lengthAdjust="spacingAndGlyphs">2M</tspan></text>
<text class="tick" y="573.8"><tspan x="1422.00" textLength="28.19" lengthAdjust="spacingAndGlyphs">1M</tspan></text>
<text class="tick" y="673.7"><tspan x="1423.08" textLength="12.87" lengthAdjust="spacingAndGlyphs">0</tspan></text>
<circle cx="528.4" cy="750.8" r="11.7" fill="#0052ff"/>
<circle cx="855.5" cy="750.75" r="11.2" fill="#e1e8f6" stroke="#dbdbdb" stroke-width="0.8"/>
</svg></div></body></html>
